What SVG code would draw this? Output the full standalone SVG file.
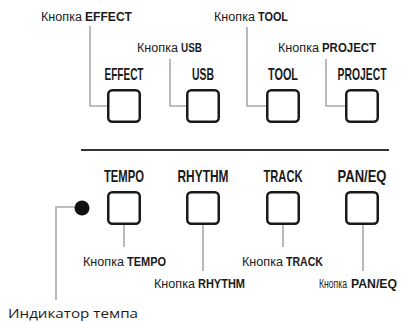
<svg xmlns="http://www.w3.org/2000/svg" width="401" height="323" viewBox="0 0 401 323">
<style>
.btn{fill:#fff;stroke:#1a1a1a;stroke-width:2.5}
.lead{fill:none;stroke:#a9a9a9;stroke-width:1.6}
.cap{font-family:"Liberation Sans Narrow","Liberation Sans",sans-serif;font-weight:bold;font-size:17px;fill:#1a1a1a;text-anchor:middle}
.call{font-family:"Liberation Sans Narrow","Liberation Sans",sans-serif;font-size:12.5px;fill:#1a1a1a}
.b{font-weight:bold}
.reg{font-family:"Open Sans","Liberation Sans",sans-serif;font-size:12.5px;fill:#1a1a1a}
</style>
<rect width="401" height="323" fill="#fff"/>
<g id="connectors">
<polyline class="lead" points="90,26 90,106 108,106"/>
<polyline class="lead" points="170,59 170,106 187,106"/>
<polyline class="lead" points="247,27 247,106 267,106"/>
<polyline class="lead" points="326,59 326,106 346,106"/>
<line class="lead" x1="124" y1="224" x2="124" y2="247"/>
<line class="lead" x1="203" y1="224" x2="203" y2="271"/>
<line class="lead" x1="283" y1="224" x2="283" y2="247"/>
<line class="lead" x1="363" y1="224" x2="363" y2="271"/>
<polyline class="lead" points="76,207 56,207 56,300"/>
</g>
<line x1="81" y1="150" x2="389" y2="150" stroke="#333" stroke-width="2"/>
<g id="effect">
<text class="cap" x="124" y="80" textLength="39" lengthAdjust="spacingAndGlyphs">EFFECT</text>
<rect class="btn" x="108.25" y="90.25" width="31.5" height="31.5" rx="4"/>
<text class="call"><tspan x="41" y="21" textLength="41" lengthAdjust="spacingAndGlyphs">Кнопка</tspan><tspan class="b" x="85" y="21" textLength="47" lengthAdjust="spacingAndGlyphs">EFFECT</tspan></text>
</g>
<g id="usb">
<text class="cap" x="203" y="80" textLength="22" lengthAdjust="spacingAndGlyphs">USB</text>
<rect class="btn" x="187.25" y="90.25" width="31.5" height="31.5" rx="4"/>
<text class="call"><tspan x="137" y="52" textLength="41" lengthAdjust="spacingAndGlyphs">Кнопка</tspan><tspan class="b" x="181" y="52" textLength="21" lengthAdjust="spacingAndGlyphs">USB</tspan></text>
</g>
<g id="tool">
<text class="cap" x="283" y="80" textLength="30" lengthAdjust="spacingAndGlyphs">TOOL</text>
<rect class="btn" x="267.25" y="90.25" width="31.5" height="31.5" rx="4"/>
<text class="call"><tspan x="214" y="21" textLength="41" lengthAdjust="spacingAndGlyphs">Кнопка</tspan><tspan class="b" x="258" y="21" textLength="30" lengthAdjust="spacingAndGlyphs">TOOL</tspan></text>
</g>
<g id="project">
<text class="cap" x="362" y="80" textLength="49" lengthAdjust="spacingAndGlyphs">PROJECT</text>
<rect class="btn" x="346.25" y="90.25" width="31.5" height="31.5" rx="4"/>
<text class="call"><tspan x="278" y="52" textLength="41" lengthAdjust="spacingAndGlyphs">Кнопка</tspan><tspan class="b" x="322" y="52" textLength="54" lengthAdjust="spacingAndGlyphs">PROJECT</tspan></text>
</g>
<g id="tempo">
<text class="cap" x="124" y="182" textLength="40" lengthAdjust="spacingAndGlyphs">TEMPO</text>
<rect class="btn" x="108.25" y="192.25" width="31.5" height="31.5" rx="4"/>
<text class="call"><tspan x="83" y="266" textLength="41" lengthAdjust="spacingAndGlyphs">Кнопка</tspan><tspan class="b" x="127" y="266" textLength="39" lengthAdjust="spacingAndGlyphs">TEMPO</tspan></text>
</g>
<g id="rhythm">
<text class="cap" x="203" y="182" textLength="51" lengthAdjust="spacingAndGlyphs">RHYTHM</text>
<rect class="btn" x="187.25" y="192.25" width="31.5" height="31.5" rx="4"/>
<text class="call"><tspan x="154" y="288" textLength="41" lengthAdjust="spacingAndGlyphs">Кнопка</tspan><tspan class="b" x="198" y="288" textLength="47" lengthAdjust="spacingAndGlyphs">RHYTHM</tspan></text>
</g>
<g id="track">
<text class="cap" x="283" y="182" textLength="39" lengthAdjust="spacingAndGlyphs">TRACK</text>
<rect class="btn" x="267.25" y="192.25" width="31.5" height="31.5" rx="4"/>
<text class="call"><tspan x="242" y="266" textLength="41" lengthAdjust="spacingAndGlyphs">Кнопка</tspan><tspan class="b" x="286" y="266" textLength="37" lengthAdjust="spacingAndGlyphs">TRACK</tspan></text>
</g>
<g id="paneq">
<text class="cap" x="362" y="182" textLength="49" lengthAdjust="spacingAndGlyphs">PAN/EQ</text>
<rect class="btn" x="346.25" y="192.25" width="31.5" height="31.5" rx="4"/>
<text class="call"><tspan x="319" y="288" textLength="28" lengthAdjust="spacingAndGlyphs">Кнопка</tspan><tspan class="b" x="351" y="288" textLength="46" lengthAdjust="spacingAndGlyphs">PAN/EQ</tspan></text>
</g>
<g id="tempo-indicator">
<circle cx="82" cy="208" r="7.5" fill="#111"/>
<text class="reg" x="8" y="318" textLength="130" lengthAdjust="spacingAndGlyphs">Индикатор темпа</text>
</g>
</svg>
